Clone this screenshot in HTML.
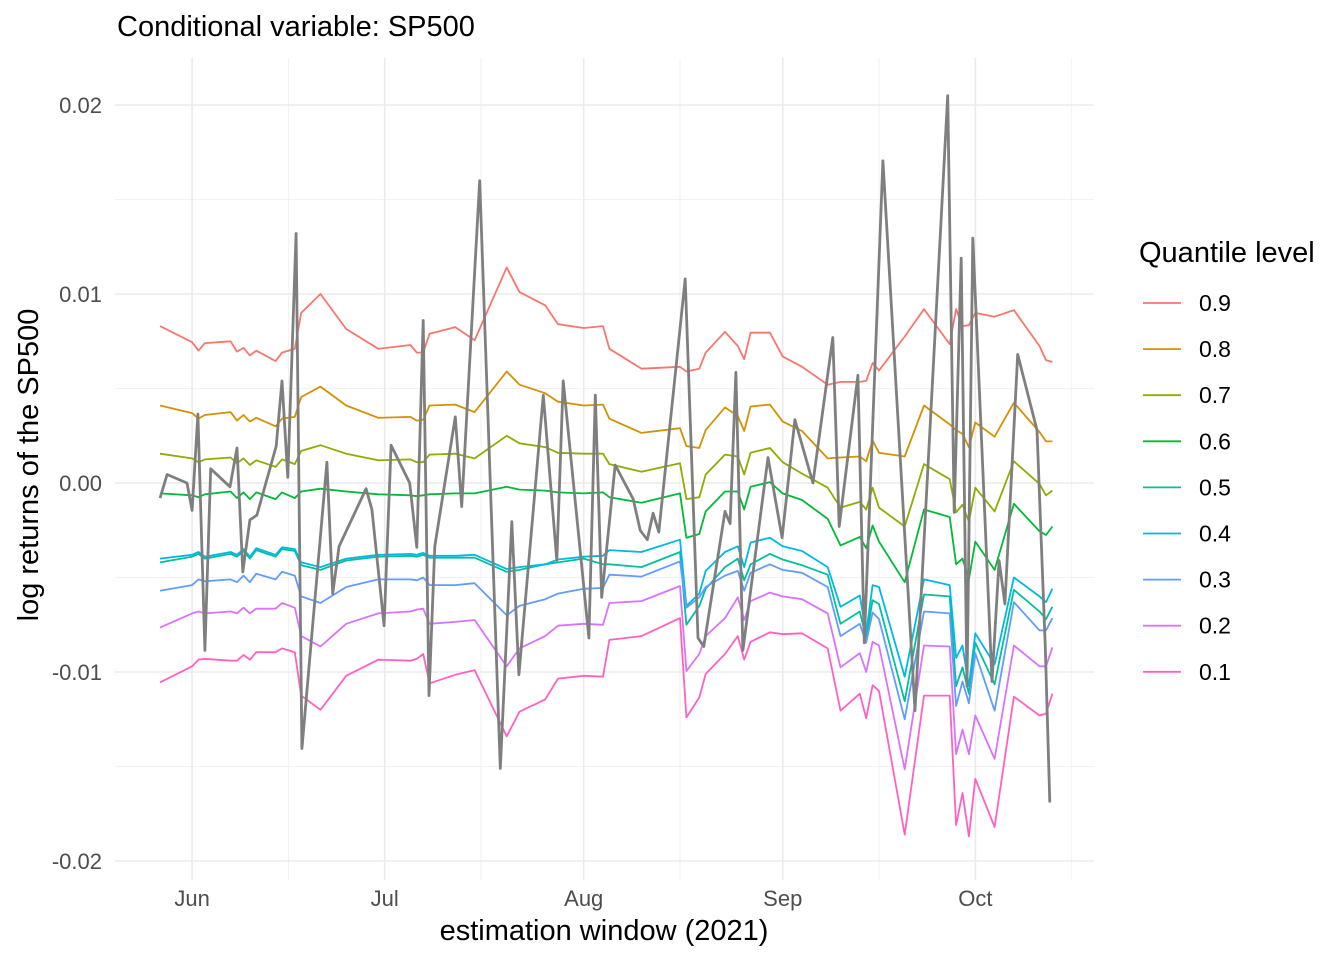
<!DOCTYPE html>
<html><head><meta charset="utf-8"><style>
html,body{margin:0;padding:0;background:#fff}
svg text{font-family:"Liberation Sans",Arial,sans-serif}
</style></head><body>
<svg id="chart" width="1344" height="960" viewBox="0 0 1344 960">
<g id="grid"></g>
<g id="series"></g>
<g id="axes"></g>
<text x="117" y="36" font-size="29" fill="#000">Conditional variable: SP500</text>
<text x="604" y="940" font-size="29" text-anchor="middle" fill="#000">estimation window (2021)</text>
<text transform="translate(38,465) rotate(-90)" font-size="29" text-anchor="middle" fill="#000">log returns of the SP500</text>
<g id="legend">
<text x="1139" y="262" font-size="29" fill="#000">Quantile level</text>
</g>
</svg>
<script>
// days since 2021-05-27 ; values in units of 0.001
const qDays=[0,5,6,7,11,12,13,14,15,18,19,21,22,25,29,34,39,40,41,42,46,49,
54,56,60,62,66,69,70,75,81,82,84,85,88,90,91,92,95,97,
100,104,106,109,110,111,112,116,119,123,124,125,126,127,130,133,137,138,139];
const q90=[8.3,7.45,7.0,7.4,7.5,6.95,7.15,6.75,7.0,6.45,6.9,7.1,9.0,10.0,8.15,7.1,7.3,6.9,6.9,7.9,8.25,7.55,
11.4,10.1,9.4,8.4,8.2,8.3,7.1,6.05,6.15,5.9,6.05,6.9,8.0,7.25,6.55,7.95,7.95,6.7,
6.15,5.2,5.35,5.35,5.4,6.35,5.95,7.75,9.2,7.35,9.2,8.3,8.35,9.0,8.8,9.15,7.25,6.5,6.4];
const q80=[4.1,3.7,3.4,3.6,3.75,3.3,3.6,3.25,3.45,3.0,3.4,3.5,4.55,5.1,4.1,3.45,3.5,3.3,3.35,4.1,4.15,3.75,
5.9,5.2,4.75,4.3,4.1,4.15,3.4,2.65,2.9,1.95,1.85,2.8,4.0,3.55,2.75,4.05,4.15,3.25,
2.75,1.3,1.35,1.4,1.15,2.25,1.6,1.4,4.1,3.1,2.8,2.6,1.9,3.2,2.45,4.25,2.7,2.2,2.2];
const q70=[1.55,1.3,1.1,1.25,1.35,1.05,1.3,0.95,1.2,0.85,1.25,1.0,1.7,2.0,1.55,1.2,1.25,1.1,1.1,1.5,1.55,1.3,
2.5,2.1,1.9,1.6,1.55,1.55,1.0,0.6,1.05,-0.85,-0.75,0.45,1.5,1.4,0.45,1.6,1.85,1.1,
0.5,-0.25,-1.3,-1.0,-1.4,-0.25,-1.3,-2.3,1.0,0.2,-1.55,-1.15,-2.05,-0.25,-1.5,1.15,-0.05,-0.65,-0.4];
const q60=[-0.55,-0.65,-0.75,-0.6,-0.45,-0.8,-0.5,-0.85,-0.5,-0.85,-0.5,-0.8,-0.45,-0.3,-0.45,-0.6,-0.65,-0.7,-0.65,-0.6,-0.55,-0.55,
-0.2,-0.35,-0.4,-0.5,-0.55,-0.5,-0.75,-1.05,-0.55,-2.9,-2.7,-1.5,-0.45,-0.45,-1.4,-0.2,0.05,-0.55,
-0.9,-1.9,-3.3,-2.85,-3.45,-2.25,-3.1,-5.25,-1.4,-1.8,-4.3,-4.0,-5.1,-3.1,-4.6,-1.1,-2.55,-2.75,-2.3];
const q50=[-4.2,-3.9,-3.75,-4.0,-3.75,-3.9,-3.6,-4.0,-3.55,-3.9,-3.5,-3.6,-4.35,-4.6,-4.1,-3.9,-3.85,-3.9,-3.8,-3.95,-3.95,-3.95,
-4.7,-4.6,-4.3,-4.2,-4.0,-4.3,-4.3,-4.45,-3.65,-7.5,-6.5,-5.6,-4.45,-4.0,-5.15,-4.3,-3.75,-4.05,
-4.35,-4.85,-7.45,-6.8,-8.2,-6.2,-6.4,-11.55,-5.9,-6.0,-10.75,-9.75,-11.15,-8.45,-10.65,-5.65,-6.8,-7.2,-6.55];
const q40=[-4.0,-3.8,-3.65,-3.9,-3.65,-3.8,-3.5,-3.9,-3.45,-3.8,-3.4,-3.5,-4.2,-4.45,-4.0,-3.8,-3.75,-3.8,-3.7,-3.85,-3.85,-3.8,
-4.55,-4.45,-4.3,-4.05,-3.9,-3.85,-3.55,-3.65,-3.0,-6.5,-5.85,-4.65,-3.65,-3.35,-4.45,-3.15,-2.9,-3.35,
-3.6,-4.45,-6.55,-5.95,-7.95,-5.4,-5.5,-10.25,-5.1,-5.4,-9.25,-8.6,-10.75,-7.95,-9.6,-5.0,-6.0,-6.3,-5.6];
const q30=[-5.7,-5.4,-5.1,-5.2,-5.1,-5.25,-4.9,-5.25,-4.8,-5.1,-4.7,-4.9,-6.0,-6.35,-5.5,-5.1,-5.1,-5.15,-5.0,-5.4,-5.4,-5.3,
-7.0,-6.5,-6.15,-5.85,-5.6,-5.55,-4.85,-4.95,-4.15,-6.6,-6.05,-5.5,-4.9,-4.65,-5.7,-4.75,-4.3,-4.6,
-4.75,-5.5,-8.1,-7.45,-8.45,-6.85,-7.2,-12.5,-6.8,-6.9,-11.8,-10.5,-11.65,-9.0,-12.05,-6.3,-7.8,-7.8,-7.15];
const q20=[-7.65,-6.9,-6.8,-6.9,-6.8,-6.9,-6.6,-6.9,-6.65,-6.65,-6.35,-6.6,-8.1,-8.65,-7.45,-6.9,-6.8,-6.7,-6.65,-7.45,-7.35,-7.25,
-9.7,-8.75,-8.1,-7.55,-7.45,-7.5,-6.35,-6.25,-5.45,-9.95,-9.05,-8.1,-7.15,-6.05,-7.25,-6.25,-5.8,-6.0,
-6.15,-6.9,-9.75,-9.0,-10.0,-8.4,-8.6,-15.15,-8.6,-8.65,-14.35,-13.05,-14.35,-12.3,-14.6,-8.6,-9.7,-9.7,-8.7];
const q10=[-10.55,-9.7,-9.35,-9.3,-9.4,-9.4,-9.1,-9.35,-8.95,-8.95,-8.75,-8.95,-11.25,-12.0,-10.2,-9.35,-9.4,-9.3,-9.05,-10.6,-10.15,-9.9,
-13.4,-12.1,-11.45,-10.35,-10.2,-10.25,-8.3,-8.1,-7.15,-12.4,-11.35,-10.1,-9.05,-8.1,-9.35,-8.4,-7.9,-8.0,
-7.95,-8.75,-12.05,-11.15,-12.45,-10.7,-11.0,-18.6,-11.25,-11.25,-18.1,-16.4,-18.7,-15.65,-18.2,-11.3,-12.3,-12.2,-11.15];
const rDays=[0,1.1,4.2,5.0,5.9,7.0,7.9,10.9,12.0,12.9,14.0,15.1,18.1,19.0,19.9,21.2,22.1,26.0,26.9,27.9,
32.1,33.0,34.9,36.0,38.9,40.0,41.0,41.9,42.8,46.0,47.0,49.8,53.0,54.8,55.9,59.7,61.8,62.8,66.8,67.8,
68.8,70.9,73.7,74.8,75.9,76.8,77.7,81.8,83.8,84.7,88.0,88.8,89.7,90.8,94.7,96.9,98.9,101.7,104.8,105.8,
108.7,109.7,112.6,117.6,122.7,123.7,124.8,125.7,126.6,129.6,130.7,131.6,133.6,136.6,137.9,138.6];
const returns=[-0.8,0.45,0.0,-1.45,3.65,-8.85,0.75,-0.2,1.85,-4.7,-1.95,-1.7,1.95,5.4,0.3,13.2,-14.05,1.1,-5.85,-3.35,
-0.3,-1.4,-7.55,2.0,0,-3.4,8.6,-11.25,-3.35,3.5,-1.25,16.0,-15.1,-2.05,-10.15,4.65,-4.1,5.4,-8.2,4.65,
-6.05,0.95,-0.85,-2.5,-3.0,-1.6,-2.6,10.8,-8.2,-8.65,-1.5,-2.15,5.85,-8.85,1.35,-2.9,3.35,0,7.7,-2.3,
5.7,-8.45,17.05,-12.05,20.5,-1.55,11.9,-10.75,12.95,-10.5,-4.1,-6.4,6.8,2.8,-8.7,-16.9];
const levelLabels=["0.9","0.8","0.7","0.6","0.5","0.4","0.3","0.2","0.1"];
const yTicks=[-20,-10,0,10,20];
const yTickLabels=["-0.02","-0.01","0.00","0.01","0.02"];
const yMinor=[-15,-5,5,15];
const xTicks=[5,35,66,97,127];
const xTickLabels=["Jun","Jul","Aug","Sep","Oct"];
const xMinor=[20,50,81,112,142];

const series=[q90,q80,q70,q60,q50,q40,q30,q20,q10];
const colors=["#F8766D","#D39200","#93AA00","#00BA38","#00C19F","#00B9E3","#619CFF","#DB72FB","#FF61C3"];
const X=d=>160+6.42*d;
const Y=v=>483-18.9*v;
const NS="http://www.w3.org/2000/svg";
const mk=(t,a,p)=>{const e=document.createElementNS(NS,t);for(const k in a)e.setAttribute(k,a[k]);p.appendChild(e);return e;};
const grid=document.getElementById('grid'),ser=document.getElementById('series'),axes=document.getElementById('axes'),leg=document.getElementById('legend');
const L=115,R=1094,T=58,B=880;
yMinor.forEach(v=>{const e=mk('line',{x1:L,x2:R,y1:Y(v),y2:Y(v),stroke:'#f2f2f2','stroke-width':1},grid);

});
xMinor.forEach(d=>{const e=mk('line',{x1:X(d),x2:X(d),y1:T,y2:B,stroke:'#f2f2f2','stroke-width':1},grid);

});
yTicks.forEach((v,i)=>{const e=mk('line',{x1:L,x2:R,y1:Y(v),y2:Y(v),stroke:'#ebebeb','stroke-width':1.6},grid);


const t=mk('text',{x:102,y:Y(v)+8,'font-size':22,'text-anchor':'end',fill:'#4d4d4d'},axes);t.textContent=yTickLabels[i];

});
xTicks.forEach((d,i)=>{const e=mk('line',{x1:X(d),x2:X(d),y1:T,y2:B,stroke:'#ebebeb','stroke-width':1.6},grid);


const t=mk('text',{x:X(d),y:906,'font-size':22,'text-anchor':'middle',fill:'#4d4d4d'},axes);t.textContent=xTickLabels[i];

});
series.forEach((s,k)=>{const pts=qDays.map((d,i)=>X(d).toFixed(1)+','+Y(s[i]).toFixed(1)).join(' ');
const e=mk('polyline',{points:pts,fill:'none',stroke:colors[k],'stroke-width':1.8,'stroke-linejoin':'round'},ser);


const ly=303+46.1*k;
const l=mk('line',{x1:1143,x2:1181,y1:ly,y2:ly,stroke:colors[k],'stroke-width':1.8},leg);


const t=mk('text',{x:1199,y:ly+8,'font-size':23,fill:'#000'},leg);t.textContent=levelLabels[k];

});
const gp=rDays.map((d,i)=>X(d).toFixed(1)+','+Y(returns[i]).toFixed(1)).join(' ');
const g=mk('polyline',{points:gp,fill:'none',stroke:'#7f7f7f','stroke-width':2.8,'stroke-linejoin':'round'},ser);


</script>
</body></html>
